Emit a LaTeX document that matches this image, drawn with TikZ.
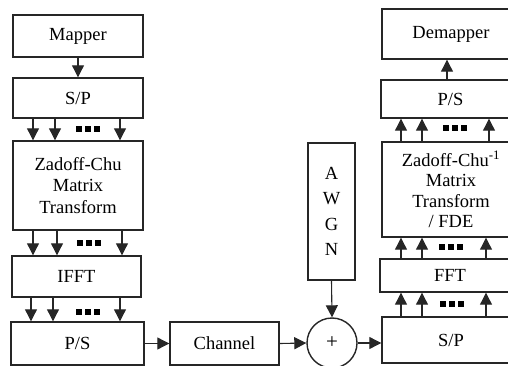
\documentclass[tikz,border=0pt]{standalone}
\usepackage{fontspec}
\setmainfont{Liberation Serif}
\usetikzlibrary{arrows.meta}
\begin{document}
\begin{tikzpicture}[x=1pt,y=-1pt,
  blk/.style={draw=black!85,line width=1.4pt,inner sep=0pt,align=center,
     font=\fontsize{18.5}{21.5}\selectfont},
  arr/.style={line width=1.1pt,black!85,-{Triangle[length=12pt,width=12pt]}},
  dotsq/.style={fill=black}]
\useasboundingbox (0,0) rectangle (508,366);
\clip (0,0) rectangle (508,366);
% left column
\node[blk,minimum width=130pt,minimum height=42pt] (map) at (78,36) {Mapper};
\node[blk,minimum width=130pt,minimum height=40pt] (sp1) at (78,98) {S/P};
\node[blk,minimum width=130pt,minimum height=89pt] (zc) at (78,185.5) {Zadoff-Chu\\Matrix\\Transform};
\node[blk,minimum width=129pt,minimum height=41pt] (ifft) at (76.5,276.5) {IFFT};
\node[blk,minimum width=133pt,minimum height=43pt] (ps1) at (77.5,343.5) {P/S};
\node[blk,minimum width=109pt,minimum height=43pt] (chan) at (224.5,343.5) {Channel};
\node[blk,minimum width=47pt,minimum height=137pt,font=\fontsize{18.5}{25.5}\selectfont] (awgn) at (331.5,211.5) {A\\W\\G\\N};
\node[blk,circle,minimum size=50pt,font=\fontsize{21}{24}\selectfont] (sum) at (332,343) {+};
% right column
\node[blk,minimum width=138pt,minimum height=50pt] (dem) at (451,34) {Demapper};
\node[blk,minimum width=139pt,minimum height=38pt] (ps2) at (450.5,99) {P/S};
\node[blk,minimum width=138pt,minimum height=95pt,font=\fontsize{18.5}{20.5}\selectfont] (zc2) at (451,189.5) {Zadoff-Chu\textsuperscript{-1}\\Matrix\\Transform\\/ FDE};
\node[blk,minimum width=140pt,minimum height=33pt] (fft) at (450,275.5) {FFT};
\node[blk,minimum width=138pt,minimum height=46pt] (sp2) at (451,340) {S/P};
% connectors
\draw[arr] (map) -- (sp1);
\foreach \x in {33,55,120} \draw[arr] (\x,0 |- sp1.south) -- (\x,0 |- zc.north);
\foreach \x in {33,57,122} \draw[arr] (\x,0 |- zc.south) -- (\x,0 |- ifft.north);
\foreach \x in {31,53,120} \draw[arr] (\x,0 |- ifft.south) -- (\x,0 |- ps1.north);
\draw[arr] (ps1.east) -- (chan.west);
\draw[arr] (chan.east) -- (sum.west);
\draw[arr] (awgn.south) -- (sum.north);
\draw[arr] (sum.east) -- (sum.east -| sp2.west);
\foreach \x in {401,422,486} \draw[arr] (\x,0 |- sp2.north) -- (\x,0 |- fft.south);
\foreach \x in {401,422,486} \draw[arr] (\x,0 |- fft.north) -- (\x,0 |- zc2.south);
\foreach \x in {401,422,489} \draw[arr] (\x,0 |- zc2.north) -- (\x,0 |- ps2.south);
\draw[arr] (447,0 |- ps2.north) -- (447,0 |- dem.south);
% dots
\foreach \cx/\cy in {79/129, 80/243, 79/312, 446/128, 442/247, 443/304}
  \foreach \d in {0,9,18} \fill[dotsq] (\cx+\d-2.8,\cy-2.8) rectangle +(5.6,5.6);
\end{tikzpicture}
\end{document}
